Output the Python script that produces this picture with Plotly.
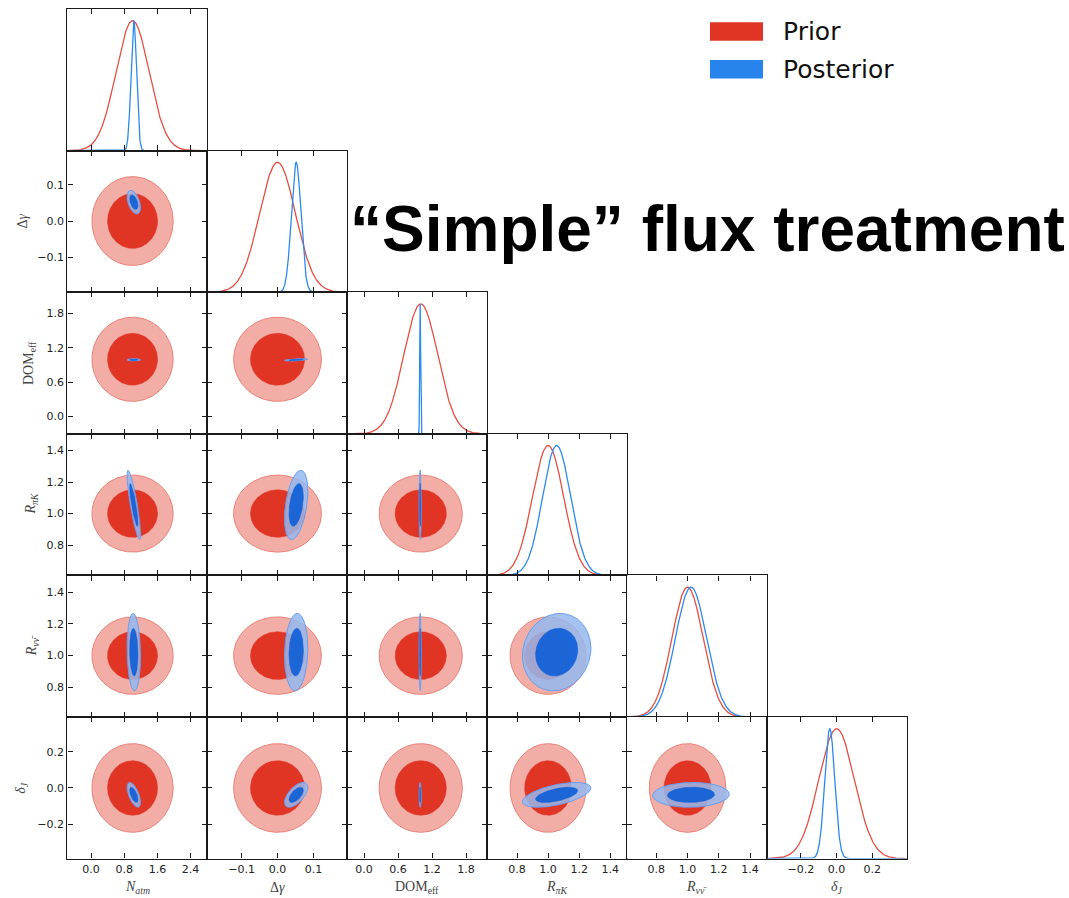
import numpy as np
import plotly.graph_objects as go

# ---------------------------------------------------------------- data
PARAM_LABELS = [
    "<i>N</i><sub><i>atm</i></sub>",
    "Δ<i>γ</i>",
    "DOM<sub>eff</sub>",
    "<i>R</i><sub><i>πK</i></sub>",
    "<i>R</i><sub><i>νν̄</i></sub>",
    "<i>δ</i><sub><i>J</i></sub>",
]
AXIS_RANGES = [
    [-0.573, 2.80],
    [-0.196, 0.194],
    [-0.30, 2.17],
    [0.607, 1.507],
    [0.612, 1.507],
    [-0.39, 0.392],
]
TICK_VALUES = [
    [0.0, 0.8, 1.6, 2.4],
    [-0.1, 0.0, 0.1],
    [0.0, 0.6, 1.2, 1.8],
    [0.8, 1.0, 1.2, 1.4],
    [0.8, 1.0, 1.2, 1.4],
    [-0.2, 0.0, 0.2],
]
TICK_LABELS = [
    ["0.0", "0.8", "1.6", "2.4"],
    ["\u22120.1", "0.0", "0.1"],
    ["0.0", "0.6", "1.2", "1.8"],
    ["0.8", "1.0", "1.2", "1.4"],
    ["0.8", "1.0", "1.2", "1.4"],
    ["\u22120.2", "0.0", "0.2"],
]

prior_mean = [1.0, 0.0, 1.0, 1.0, 1.0, 0.0]
prior_sigma = [0.4, 0.05, 0.3, 0.1, 0.1, 0.1]

posterior_mean = [1.03, 0.052, 0.99, 1.055, 1.022, -0.038]
posterior_sigma = [0.066, 0.0133, 0.008, 0.09, 0.1, 0.028]

# posterior correlation for each (row, column) pair below the diagonal
posterior_corr = {
    (1, 0): -0.45,
    (2, 0): 0.0, (2, 1): 0.5,
    (3, 0): -0.85, (3, 1): 0.4, (3, 2): 0.0,
    (4, 0): -0.1, (4, 1): 0.1, (4, 2): 0.0, (4, 3): 0.1,
    (5, 0): -0.6, (5, 1): 0.6, (5, 2): 0.0, (5, 3): 0.55, (5, 4): 0.05,
}

# probability mass enclosed by the two contour levels
CONTOUR_MASS = [0.68, 0.95]

# ---------------------------------------------------------------- style
W, H = 1069, 898
LEFT, TOP = 67.3, 9.0
CELL_W, CELL_H = 139.9, 141.6
N_PAR = len(PARAM_LABELS)

PRIOR_LINE = "rgb(232,78,66)"
POST_LINE = "rgb(42,138,240)"
PRIOR_FILL = ["rgb(224,53,37)", "rgb(242,174,166)"]
PRIOR_EDGE = "rgb(234,128,118)"
POST_FILL = ["rgba(8,92,215,0.88)", "rgba(149,185,238,0.85)"]
POST_EDGE = "rgb(105,158,240)"
AX_COLOR = "#1a1a1a"


def px_x(x):
    return x / W


def px_y(y):
    return 1 - y / H


def gauss(x, m, s):
    return np.exp(-0.5 * ((x - m) / s) ** 2)


def ellipse(mx, my, sx, sy, rho, mass, n=260):
    r = np.sqrt(-2.0 * np.log(1.0 - mass))
    t = np.linspace(0, 2 * np.pi, n)
    u, v = r * np.cos(t), r * np.sin(t)
    return mx + sx * u, my + sy * (rho * u + np.sqrt(1 - rho ** 2) * v)


fig = go.Figure()
layout = {}
k = 0
for i in range(N_PAR):
    for j in range(i + 1):
        k += 1
        xa = "x" if k == 1 else f"x{k}"
        ya = "y" if k == 1 else f"y{k}"
        x0 = LEFT + j * CELL_W
        y0 = TOP + i * CELL_H
        common = dict(
            showgrid=False, zeroline=False, showline=True,
            linecolor=AX_COLOR, linewidth=1.4,
            tickfont=dict(family="DejaVu Sans", size=11, color="#222"),
        )
        layout["xaxis" if k == 1 else f"xaxis{k}"] = dict(
            common,
            domain=[px_x(x0), px_x(x0 + CELL_W)],
            anchor=ya, range=AXIS_RANGES[j],
            tickvals=TICK_VALUES[j], ticktext=TICK_LABELS[j],
            ticks="inside", ticklen=5, tickwidth=1, tickcolor=AX_COLOR,
            mirror="ticks", showticklabels=(i == N_PAR - 1),
        )
        if i == j:
            yax = dict(common, domain=[px_y(y0 + CELL_H), px_y(y0)],
                       anchor=xa, range=[0, 1.09], ticks="",
                       showticklabels=False, mirror=True)
        else:
            yax = dict(common, domain=[px_y(y0 + CELL_H), px_y(y0)],
                       anchor=xa, range=AXIS_RANGES[i],
                       tickvals=TICK_VALUES[i], ticktext=TICK_LABELS[i],
                       ticks="inside", ticklen=5, tickwidth=1,
                       tickcolor=AX_COLOR, mirror="ticks",
                       showticklabels=(j == 0))
        layout["yaxis" if k == 1 else f"yaxis{k}"] = yax

        if i == j:
            # marginal densities, peak normalised to one
            xs = np.linspace(AXIS_RANGES[j][0], AXIS_RANGES[j][1], 2400)
            fig.add_trace(go.Scatter(
                x=xs, y=gauss(xs, prior_mean[j], prior_sigma[j]),
                mode="lines", line=dict(color=PRIOR_LINE, width=1.3),
                xaxis=xa, yaxis=ya, hoverinfo="skip"))
            fig.add_trace(go.Scatter(
                x=xs, y=gauss(xs, posterior_mean[j], posterior_sigma[j]),
                mode="lines", line=dict(color=POST_LINE, width=1.3),
                xaxis=xa, yaxis=ya, hoverinfo="skip"))
            continue

        # prior contours (uncorrelated), outer level first
        for lvl in (1, 0):
            ex, ey = ellipse(prior_mean[j], prior_mean[i],
                             prior_sigma[j], prior_sigma[i], 0.0,
                             CONTOUR_MASS[lvl])
            fig.add_trace(go.Scatter(
                x=ex, y=ey, mode="lines", fill="toself",
                fillcolor=PRIOR_FILL[lvl],
                line=dict(color=PRIOR_EDGE if lvl == 1 else PRIOR_FILL[0],
                          width=1 if lvl == 1 else 0.5),
                xaxis=xa, yaxis=ya, hoverinfo="skip"))
        # posterior contours
        rho = posterior_corr[(i, j)]
        for lvl in (1, 0):
            ex, ey = ellipse(posterior_mean[j], posterior_mean[i],
                             posterior_sigma[j], posterior_sigma[i], rho,
                             CONTOUR_MASS[lvl])
            fig.add_trace(go.Scatter(
                x=ex, y=ey, mode="lines", fill="toself",
                fillcolor=POST_FILL[lvl],
                line=dict(color=POST_EDGE if lvl == 1 else "rgba(8,92,215,0.9)",
                          width=1 if lvl == 1 else 0.5),
                xaxis=xa, yaxis=ya, hoverinfo="skip"))

annotations = []
label_font = dict(family="Liberation Serif", size=14, color="#444")
# x-axis titles along the bottom row
for j in range(N_PAR):
    annotations.append(dict(
        text=PARAM_LABELS[j], xref="paper", yref="paper",
        x=px_x(LEFT + (j + 0.5) * CELL_W), y=px_y(887),
        xanchor="center", yanchor="middle", showarrow=False,
        font=label_font))
# y-axis titles down the left column
ylabel_x = [None, 22, 30, 32, 32, 22]
for i in range(1, N_PAR):
    annotations.append(dict(
        text=PARAM_LABELS[i], xref="paper", yref="paper",
        x=px_x(ylabel_x[i]), y=px_y(TOP + (i + 0.5) * CELL_H),
        xanchor="center", yanchor="middle", textangle=-90,
        showarrow=False, font=label_font))

# heading
annotations.append(dict(
    text="\u201cSimple\u201d flux treatment", xref="paper", yref="paper",
    x=px_x(707), y=px_y(229), xanchor="center", yanchor="middle",
    showarrow=False,
    font=dict(family="Liberation Sans", size=64, color="#000",
              weight="bold")))

# legend
legend_items = [("Prior", "rgb(224,52,36)", 31.5),
                ("Posterior", "rgb(38,132,236)", 69.2)]
shapes = []
for name, col, yc in legend_items:
    shapes.append(dict(type="rect", xref="paper", yref="paper",
                       x0=px_x(710), x1=px_x(763),
                       y0=px_y(yc - 9.2), y1=px_y(yc + 9.2),
                       fillcolor=col, line=dict(width=0)))
    annotations.append(dict(
        text=name, xref="paper", yref="paper",
        x=px_x(781), y=px_y(yc), xanchor="left", yanchor="middle",
        showarrow=False,
        font=dict(family="DejaVu Sans", size=25, color="#111")))

fig.update_layout(
    **layout,
    width=W, height=H,
    margin=dict(l=0, r=0, t=0, b=0),
    paper_bgcolor="white", plot_bgcolor="white",
    showlegend=False,
    annotations=annotations,
    shapes=shapes,
)

fig.write_html("out.html")
